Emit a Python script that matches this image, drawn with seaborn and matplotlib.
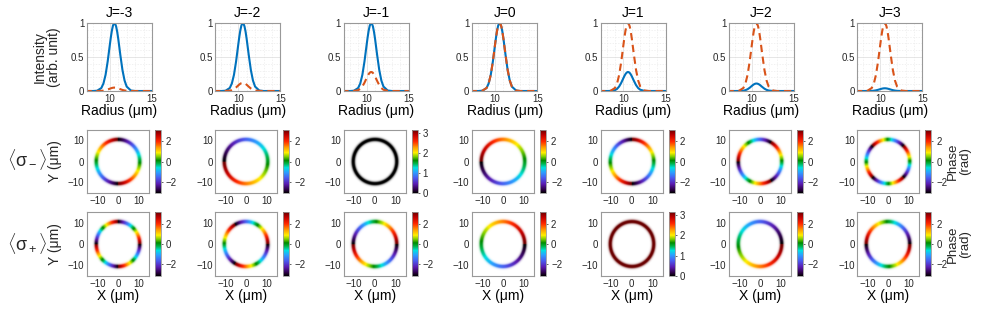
import numpy as np
import pandas as pd
import matplotlib
matplotlib.use("Agg")
import matplotlib.pyplot as plt
import seaborn as sns
from matplotlib.colors import LinearSegmentedColormap, Normalize
from matplotlib.cm import ScalarMappable
from matplotlib.ticker import MultipleLocator

# ── data ─────────────────────────────────────────────────────────────────────
J_VALUES = [-3, -2, -1, 0, 1, 2, 3]
BLUE_PEAK = [1.0, 1.0, 1.0, 1.0, 0.28, 0.11, 0.04]
ORANGE_PEAK = [0.05, 0.12, 0.28, 1.0, 1.0, 1.0, 1.0]

RADIUS = [7.0, 8.0, 8.5, 9.0, 9.25, 9.5, 9.75, 10.0, 10.125, 10.25, 10.375,
          10.5, 10.625, 10.75, 10.875, 11.0, 11.25, 11.5, 11.75, 12.0, 12.5,
          13.0, 14.0, 15.0]
SHAPE = [0.0, 0.0, 0.004, 0.044, 0.111, 0.238, 0.435, 0.675, 0.791, 0.89,
         0.961, 0.997, 0.993, 0.949, 0.872, 0.769, 0.529, 0.309, 0.154, 0.065,
         0.007, 0.0, 0.0, 0.0]

# topological charge of each ring and its phase offset
CHARGE_MINUS = [-2, -1, 0, 1, 2, 3, 4]
CHARGE_PLUS = [-4, -3, -2, -1, 0, 1, 2]
OFFSET_MINUS = 0.0
OFFSET_PLUS = np.pi

BLUE = "#0072BD"
ORANGE = "#D95319"
TXT = "#262626"
EDGE = "#999999"

W, H = 981, 311

phase_cmap = LinearSegmentedColormap.from_list("phase", [
    (0.00, "#000000"), (0.05, "#2a0040"), (0.14, "#5a1ab0"), (0.24, "#4a5cf0"),
    (0.33, "#2aa0ff"), (0.40, "#00e0e0"), (0.47, "#00b040"), (0.52, "#008a00"),
    (0.58, "#80d000"), (0.64, "#ffee00"), (0.72, "#ffa000"), (0.82, "#ff2800"),
    (0.92, "#c00000"), (1.00, "#6a0000")])

sns.set_theme(style="white")
plt.rcParams["font.family"] = ["Liberation Sans", "DejaVu Sans"]
plt.rcParams["mathtext.fontset"] = "custom"
plt.rcParams["mathtext.rm"] = "Liberation Sans"
plt.rcParams["mathtext.it"] = "Liberation Sans"


def px_axes(fig, x, y, w, h):
    return fig.add_axes([x / W, 1 - (y + h) / H, w / W, h / H])


def style_axes(ax):
    for s in ax.spines.values():
        s.set_color(EDGE)
        s.set_linewidth(0.8)
    ax.tick_params(axis="both", which="major", labelsize=7, colors=TXT,
                   direction="in", length=2, width=0.6, pad=2)
    ax.tick_params(which="minor", length=0)


grid = np.linspace(-15, 15, 301)
GX, GY = np.meshgrid(grid, grid)
GR = np.hypot(GX, GY)
GPHI = np.arctan2(GY, GX)
ring_alpha = np.clip(1.3 * np.interp(GR, RADIUS, SHAPE), 0, 1)

fig = plt.figure(figsize=(W / 100, H / 100), dpi=100)

for i, J in enumerate(J_VALUES):
    x0 = 87 + 128.4 * i

    # ── intensity profiles ───────────────────────────────────────────────────
    ax = px_axes(fig, x0, 23, 65, 68)
    df = pd.DataFrame({"r": RADIUS,
                       "blue": np.array(SHAPE) * BLUE_PEAK[i],
                       "orange": np.array(SHAPE) * ORANGE_PEAK[i]})
    sns.lineplot(data=df, x="r", y="blue", ax=ax, color=BLUE, lw=1.5)
    sns.lineplot(data=df, x="r", y="orange", ax=ax, color=ORANGE, lw=1.5,
                 linestyle=(0, (3.5, 2.2)))
    ax.set_xlim(7.3, 15)
    ax.set_ylim(0, 1)
    ax.set_xticks([10, 15])
    ax.set_yticks([0, 0.5, 1])
    ax.set_yticklabels(["0", "0.5", "1"])
    ax.xaxis.set_minor_locator(MultipleLocator(1))
    ax.yaxis.set_minor_locator(MultipleLocator(0.1))
    ax.grid(which="major", color="#dcdcdc", lw=0.5)
    ax.grid(which="minor", color="#ececec", lw=0.5, ls=(0, (2, 2)))
    ax.set_axisbelow(True)
    style_axes(ax)
    ax.set_title(f"J={J}", fontsize=10, color="black", pad=4)
    ax.set_xlabel("Radius (μm)", fontsize=10, color="black", labelpad=0)
    ax.set_ylabel("")

    # ── phase rings ──────────────────────────────────────────────────────────
    rows = [(130, 63, CHARGE_MINUS[i], OFFSET_MINUS),
            (212, 64, CHARGE_PLUS[i], OFFSET_PLUS)]
    for k, (y0, h, l, off) in enumerate(rows):
        ax = px_axes(fig, x0, y0, 62, h)
        phase = np.angle(np.exp(1j * (l * GPHI + off)))
        if l == 0:
            norm = Normalize(0, np.pi)
            ticks = [0, 1, 2, 3]
        else:
            norm = Normalize(-np.pi, np.pi)
            ticks = [-2, 0, 2]
        rgba = phase_cmap(norm(phase))
        rgba[..., 3] = ring_alpha
        ax.imshow(rgba, extent=[-15, 15, -15, 15], origin="lower",
                  interpolation="bilinear")
        ax.set_xlim(-15, 15)
        ax.set_ylim(-15, 15)
        ax.set_aspect("auto")
        ax.set_xticks([-10, 0, 10])
        ax.set_yticks([-10, 0, 10])
        style_axes(ax)
        if k == 1:
            ax.set_xlabel("X (μm)", fontsize=10, color="black", labelpad=0)

        cax = px_axes(fig, x0 + 68, y0, 6, h)
        cb = fig.colorbar(ScalarMappable(norm=norm, cmap=phase_cmap), cax=cax,
                          ticks=ticks)
        cb.outline.set_edgecolor(EDGE)
        cb.outline.set_linewidth(0.6)
        cax.tick_params(labelsize=7, colors=TXT, length=1.5, width=0.5, pad=2)

# ── row / column labels ──────────────────────────────────────────────────────
fig.text(47 / W, 1 - 57 / H, "Intensity\n(arb. unit)", rotation=90,
         ha="center", va="center", fontsize=10, linespacing=1.05)
for yc in (161.5, 244):
    fig.text(55 / W, 1 - yc / H, "Y (μm)", rotation=90, ha="center",
             va="center", fontsize=10)
    fig.text(959 / W, 1 - yc / H, "Phase\n(rad)", rotation=90, ha="center",
             va="center", fontsize=9.5, linespacing=0.95)
fig.text(27 / W, 1 - 160 / H, r"$\langle\sigma_-\rangle$", ha="center",
         va="center", fontsize=13)
fig.text(27 / W, 1 - 243 / H, r"$\langle\sigma_+\rangle$", ha="center",
         va="center", fontsize=13)

fig.savefig("out.png", dpi=100)
